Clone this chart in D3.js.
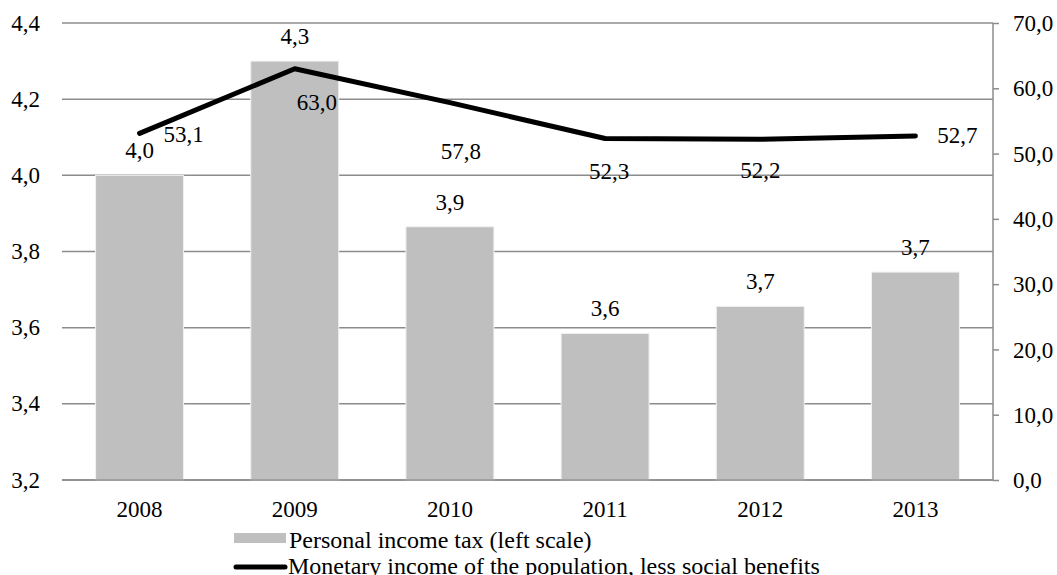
<!DOCTYPE html>
<html>
<head>
<meta charset="utf-8">
<script src="https://cdn.jsdelivr.net/npm/d3@7"></script>
<style>
  body { margin: 0; background: #fff; }
  svg, svg text { font-family: "Liberation Serif", "Times New Roman", serif !important; fill: #000; }
</style>
</head>
<body>
<script>
// data
let years = ['2008', '2009', '2010', '2011', '2012', '2013'];
let taxValues = [4.0, 4.3, 3.865, 3.585, 3.656, 3.746];      // left scale
let incomeValues = [53.1, 63.0, 57.8, 52.3, 52.2, 52.7];     // right scale
let leftTicks = [3.2, 3.4, 3.6, 3.8, 4.0, 4.2, 4.4];
let rightTicks = [0, 10, 20, 30, 40, 50, 60, 70];
let legendLabels = ['Personal income tax (left scale)', 'Monetary income of the population, less social benefits'];

// label offsets for the line values (as placed in the original)
let lineLabelOffsets = [[44, 9], [22, 41], [11, 56], [4, 40], [0, 39], [42, 7]];

let width = 1057, height = 575;
let margin = {top: 23, right: 64, bottom: 95, left: 62};
let serif = '"Liberation Serif", "Times New Roman", serif';

let fmt = v => v.toFixed(1).replace('.', ',');

let svg = d3.select('body').append('svg')
    .attr('width', width)
    .attr('height', height)
    .attr('font-family', serif);

let x = d3.scaleBand()
    .domain(years)
    .range([margin.left, width - margin.right])
    .paddingInner(0.433)
    .paddingOuter(0.2165);

let yL = d3.scaleLinear().domain([3.2, 4.4]).range([height - margin.bottom, margin.top]);
let yR = d3.scaleLinear().domain([0, 70]).range([height - margin.bottom, margin.top]);

// gridlines
svg.append('g').selectAll('line').data(leftTicks).enter().append('line')
    .attr('x1', margin.left)
    .attr('x2', width - margin.right)
    .attr('y1', d => yL(d))
    .attr('y2', d => yL(d))
    .style('stroke', '#8c8c8c')
    .style('stroke-width', 1.5);

// left tick labels
svg.append('g').selectAll('text').data(leftTicks).enter().append('text')
    .attr('x', 40)
    .attr('y', d => yL(d))
    .attr('dy', '0.33em')
    .attr('text-anchor', 'end')
    .attr('font-family', serif)
    .style('font-size', '23px')
    .text(fmt);

// bars
svg.append('g').selectAll('rect').data(taxValues).enter().append('rect')
    .attr('x', (d, i) => x(years[i]))
    .attr('width', x.bandwidth())
    .attr('y', d => yL(d))
    .attr('height', d => yL(3.2) - yL(d))
    .style('fill', '#bfbfbf')
    .style('stroke', '#f2f2f2')
    .style('stroke-width', 1);

// bottom baseline
svg.append('line')
    .attr('x1', margin.left).attr('x2', width - margin.right)
    .attr('y1', yL(3.2)).attr('y2', yL(3.2))
    .style('stroke', '#8c8c8c').style('stroke-width', 1.5);

// right axis
let rightAxis = d3.axisRight(yR).tickValues(rightTicks).tickSize(6).tickFormat(fmt);
let ra = svg.append('g')
    .attr('transform', 'translate(' + (width - margin.right) + ',0)')
    .call(rightAxis)
    .attr('font-family', serif);
ra.select('.domain').attr('d', 'M0,' + yR(70) + 'V' + yR(0)).style('stroke', '#8c8c8c').style('stroke-width', 1.5);
ra.selectAll('.tick line').style('stroke', '#8c8c8c').style('stroke-width', 1.5);
ra.selectAll('.tick text')
    .attr('x', 20)
    .attr('dy', '0.33em')
    .attr('font-family', serif)
    .style('font-size', '23px')
    .style('fill', '#000');

// x labels
svg.append('g').selectAll('text').data(years).enter().append('text')
    .attr('x', d => x(d) + x.bandwidth() / 2)
    .attr('y', 517)
    .attr('text-anchor', 'middle')
    .attr('font-family', serif)
    .style('font-size', '23px')
    .text(d => d);

// bar value labels
svg.append('g').selectAll('text').data(taxValues).enter().append('text')
    .attr('x', (d, i) => x(years[i]) + x.bandwidth() / 2)
    .attr('y', d => yL(d) - 17)
    .attr('text-anchor', 'middle')
    .attr('font-family', serif)
    .style('font-size', '23px')
    .text(fmt);

// line
let cx = (d, i) => x(years[i]) + x.bandwidth() / 2;
let lineGen = d3.line()
    .x(cx)
    .y(d => yR(d));

svg.append('path')
    .datum(incomeValues)
    .attr('d', lineGen)
    .style('fill', 'none')
    .style('stroke', '#000')
    .style('stroke-width', 5)
    .style('stroke-linejoin', 'round')
    .style('stroke-linecap', 'round');

// line value labels
svg.append('g').selectAll('text').data(incomeValues).enter().append('text')
    .attr('x', (d, i) => cx(d, i) + lineLabelOffsets[i][0])
    .attr('y', (d, i) => yR(d) + lineLabelOffsets[i][1])
    .attr('text-anchor', 'middle')
    .attr('font-family', serif)
    .style('font-size', '23px')
    .text(fmt);

// legend
let lg = svg.append('g');
lg.append('rect')
    .attr('x', 234).attr('y', 533)
    .attr('width', 52).attr('height', 10)
    .style('fill', '#bfbfbf');
lg.append('text')
    .attr('x', 289).attr('y', 548)
    .attr('font-family', serif)
    .style('font-size', '24px')
    .text(legendLabels[0]);
lg.append('line')
    .attr('x1', 236).attr('x2', 285)
    .attr('y1', 567).attr('y2', 567)
    .style('stroke', '#000')
    .style('stroke-width', 5)
    .style('stroke-linecap', 'round');
lg.append('text')
    .attr('x', 288).attr('y', 574)
    .attr('font-family', serif)
    .style('font-size', '24px')
    .text(legendLabels[1]);
</script>
</body>
</html>
